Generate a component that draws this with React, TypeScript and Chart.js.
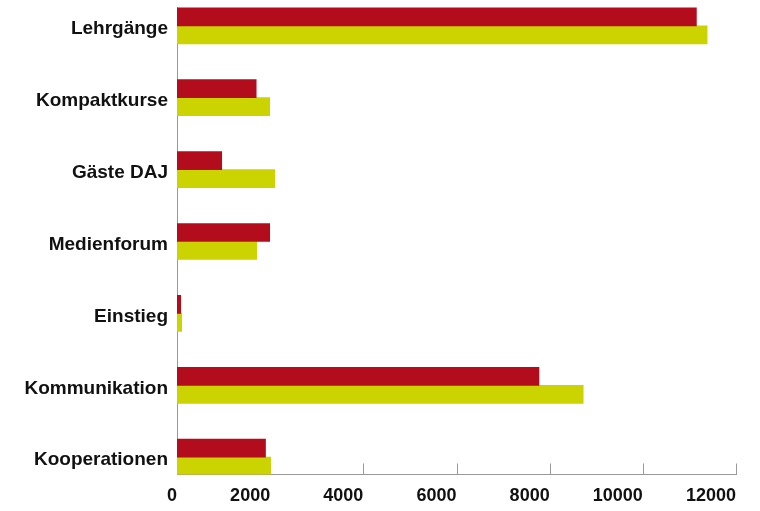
import React, { useEffect, useRef } from "react";
import { Chart, registerables } from "chart.js";

Chart.register(...registerables);

const categories = [
  "Lehrgänge",
  "Kompaktkurse",
  "Gäste DAJ",
  "Medienforum",
  "Einstieg",
  "Kommunikation",
  "Kooperationen",
];
const seriesRed = [11150, 1700, 960, 1990, 80, 7770, 1900];
const seriesYellow = [11380, 1990, 2100, 1710, 100, 8720, 2010];
const xTicks = [0, 2000, 4000, 6000, 8000, 10000, 12000];

const RED = "#b30d1d";
const YELLOW = "#cbd300";
const AXIS = "#999999";
const TEXT = "#111111";

const tickMarks = {
  id: "tickMarks",
  beforeDatasetsDraw(chart: any) {
    const { ctx, chartArea, scales } = chart;
    const x = scales.x;
    ctx.save();
    ctx.strokeStyle = AXIS;
    ctx.lineWidth = 1;
    for (const v of xTicks) {
      if (v === 0) continue;
      const px = Math.round(x.getPixelForValue(v)) + 0.5;
      ctx.beginPath();
      ctx.moveTo(px, chartArea.bottom);
      ctx.lineTo(px, chartArea.bottom - 11);
      ctx.stroke();
    }
    ctx.restore();
  },
};

export default function App() {
  const ref = useRef<HTMLCanvasElement>(null);
  useEffect(() => {
    if (!ref.current) return;
    const chart = new Chart(ref.current, {
      type: "bar",
      data: {
        datasets: [
          {
            label: "A",
            data: seriesRed.map((v, i) => ({ x: v, y: i })),
            backgroundColor: RED,
            barThickness: 18,
          },
          {
            label: "B",
            data: seriesYellow.map((v, i) => ({ x: v, y: i })),
            backgroundColor: YELLOW,
            barThickness: 18,
          },
        ],
      },
      options: {
        indexAxis: "y",
        animation: false,
        responsive: false,
        layout: { padding: { top: 7, right: 24, left: 0, bottom: 0 } },
        plugins: { legend: { display: false }, tooltip: { enabled: false } },
        scales: {
          x: {
            type: "linear",
            min: 0,
            max: 12000,
            offset: false,
            grid: { display: false, drawTicks: false },
            border: { display: true, color: AXIS, width: 1 },
            afterBuildTicks: (scale: any) => {
              scale.ticks = xTicks.map((v) => ({ value: v }));
            },
            afterFit: (scale: any) => {
              scale.height = 36.5;
              scale.paddingLeft = 0;
              scale.paddingRight = 0;
            },
            ticks: {
              align: "end",
              padding: 11,
              color: TEXT,
              font: { family: "'Liberation Sans', Arial, sans-serif", size: 18, weight: "bold" },
              maxRotation: 0,
              autoSkip: false,
              callback: (v: any) => String(v),
            },
          },
          y: {
            type: "linear",
            reverse: true,
            offset: false,
            min: -0.2615,
            max: 6.2406,
            bounds: "data",
            grid: { display: false, drawTicks: false, offset: false },
            border: { display: true, color: AXIS, width: 1 },
            afterBuildTicks: (scale: any) => {
              scale.ticks = categories.map((_, i) => ({ value: i }));
            },
            afterFit: (scale: any) => {
              scale.width = 177;
              scale.paddingTop = 0;
              scale.paddingBottom = 0;
            },
            ticks: {
              padding: 9,
              labelOffset: 3,
              color: TEXT,
              autoSkip: false,
              font: { family: "'Liberation Sans', Arial, sans-serif", size: 19, weight: "bold" },
              callback: (v: any) => categories[Number(v)] ?? "",
            },
          },
        },
      },
      plugins: [tickMarks],
    } as any);
    return () => chart.destroy();
  }, []);
  return (
    <div style={{ position: "absolute", left: 0, top: 0, width: 760, height: 511 }}>
      <canvas ref={ref} width={760} height={511} style={{ display: "block" }} />
    </div>
  );
}
